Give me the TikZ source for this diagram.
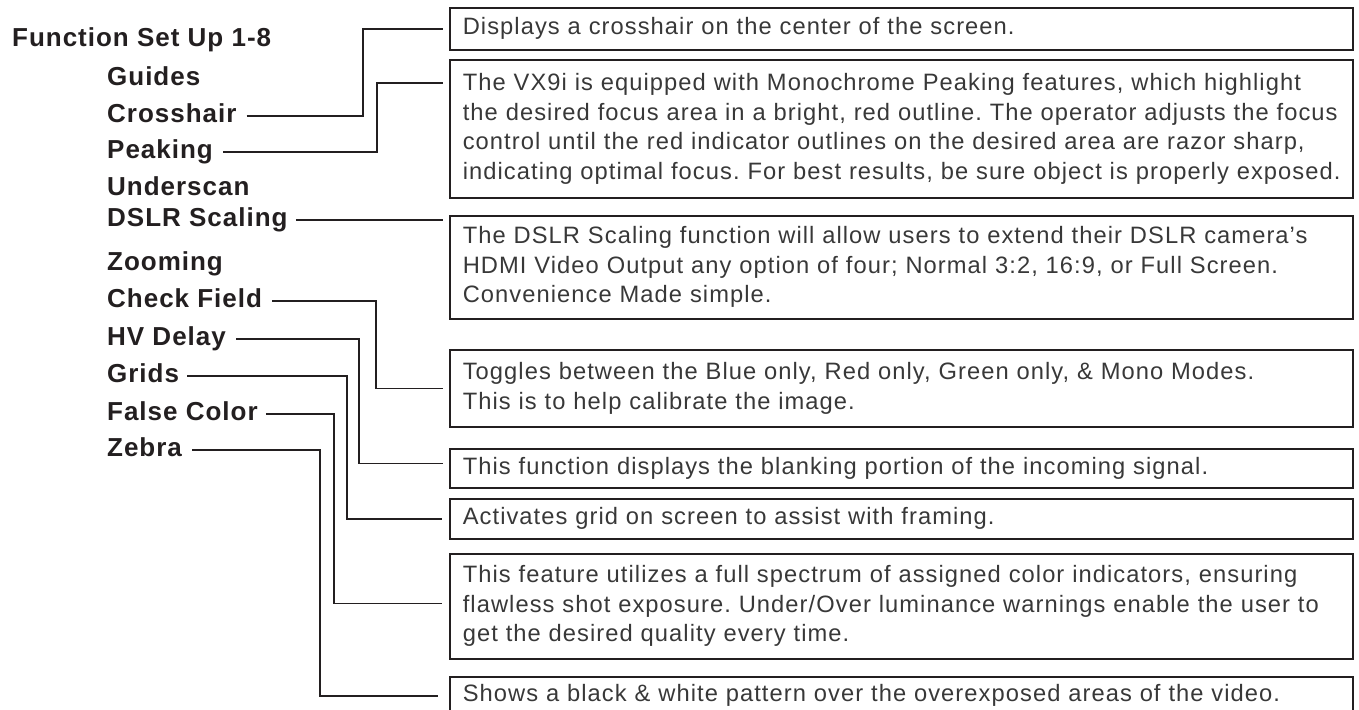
\documentclass[tikz,border=0pt]{standalone}
\usepackage{fontspec}
\setmainfont{Liberation Sans}
\newfontfamily\menufont[LetterSpace=3.8]{Liberation Sans}
\newfontfamily\descfont[LetterSpace=4.5]{Liberation Sans}
\usepackage{xcolor}
\usetikzlibrary{positioning}
\frenchspacing

\definecolor{inkdark}{HTML}{231F20}
\definecolor{inktext}{HTML}{383838}

\tikzset{
    menuitem/.style={anchor=west, inner sep=0pt, text=inkdark,
        font=\menufont\fontsize{26}{30}\selectfont\bfseries, text height=18.6pt, text depth=5pt},
    menutitle/.style={menuitem},
    descbox/.style={draw=inkdark, line width=1.6pt, anchor=north west,
        minimum width=903pt, text width=877pt, inner xsep=13pt, inner ysep=0pt,
        align=left, text=inktext, font=\descfont\fontsize{23.7}{29.5}\selectfont},
    link/.style={draw=inkdark, line width=1.6pt},
}

\begin{document}
\begin{tikzpicture}[x=1pt, y=-1pt]
        \useasboundingbox (0,0) rectangle (1359,709);
        \clip (0,0) rectangle (1359,709);

        % menu
        \node[menutitle] (ltitle) at (12,40) {Function Set Up 1-8};
        \foreach \nm/\yy/\txt in {lguides/79/Guides, lcross/116/Crosshair, lpeak/152/Peaking,
                lunder/189/Underscan, ldslr/220/DSLR Scaling, lzoom/264/Zooming,
                lcheck/301/Check Field, lhv/339/HV Delay, lgrids/376/Grids,
                lfalse/414/False Color, lzebra/450/Zebra}
            \node[menuitem] (\nm) at (107,\yy) {\txt};

        % descriptions
        \node[descbox, minimum height=42pt] (b1) at (449,7)
            {\mbox{Displays a crosshair on the center of the screen.}};
        \node[descbox, minimum height=138pt] (b2) at (449,59)
            {\mbox{The VX9i is equipped with Monochrome Peaking features, which highlight}\\
             \mbox{the desired focus area in a bright, red outline. The operator adjusts the focus}\\
             \mbox{control until the red indicator outlines on the desired area are razor sharp,}\\
             \mbox{indicating optimal focus. For best results, be sure object is properly exposed.}};
        \node[descbox, minimum height=103pt] (b3) at (449,215)
            {\mbox{The DSLR Scaling function will allow users to extend their DSLR camera’s}\\
             \mbox{HDMI Video Output any option of four; Normal 3:2, 16:9, or Full Screen.}\\
             \mbox{Convenience Made simple.}};
        \node[descbox, minimum height=77pt] (b4) at (449,349)
            {\mbox{Toggles between the Blue only, Red only, Green only, \& Mono Modes.}\\
             \mbox{This is to help calibrate the image.}};
        \node[descbox, minimum height=39pt] (b5) at (449,448)
            {\mbox{This function displays the blanking portion of the incoming signal.}};
        \node[descbox, minimum height=40pt] (b6) at (449,498)
            {\mbox{Activates grid on screen to assist with framing.}};
        \node[descbox, minimum height=105pt] (b7) at (449,553)
            {\mbox{This feature utilizes a full spectrum of assigned color indicators, ensuring}\\
             \mbox{flawless shot exposure. Under/Over luminance warnings enable the user to}\\
             \mbox{get the desired quality every time.}};
        \node[descbox, minimum height=38pt] (b8) at (449,676)
            {\mbox{Shows a black \& white pattern over the overexposed areas of the video.}};

        % connectors
        \draw[link] ([xshift=10pt]lcross.east) -| ([xshift=-86pt]b1.west) -- ([xshift=-6pt]b1.west);
        \draw[link] ([xshift=10pt]lpeak.east) -| ([xshift=-72pt,yshift=-24pt]b2.north west) -- ([xshift=-6pt,yshift=-24pt]b2.north west);
        \draw[link] ([xshift=8pt]ldslr.east) -- ([xshift=-6pt]ldslr.east -| b3.west);
        \draw[link] ([xshift=10pt]lcheck.east) -| ([xshift=-73pt]b4.west) -- ([xshift=-6pt]b4.west);
        \draw[link] ([xshift=10pt]lhv.east) -| ([xshift=-90pt,yshift=5pt]b5.west) -- ([xshift=-6pt,yshift=5pt]b5.west);
        \draw[link] ([xshift=8pt]lgrids.east) -| ([xshift=-102pt]b6.west) -- ([xshift=-7pt]b6.west);
        \draw[link] ([xshift=8pt]lfalse.east) -| ([xshift=-115pt,yshift=3pt]b7.west) -- ([xshift=-7pt,yshift=3pt]b7.west);
        \draw[link] ([xshift=10pt]lzebra.east) -| ([xshift=-129pt]b8.west) -- ([xshift=-11pt]b8.west);
\end{tikzpicture}
\end{document}
